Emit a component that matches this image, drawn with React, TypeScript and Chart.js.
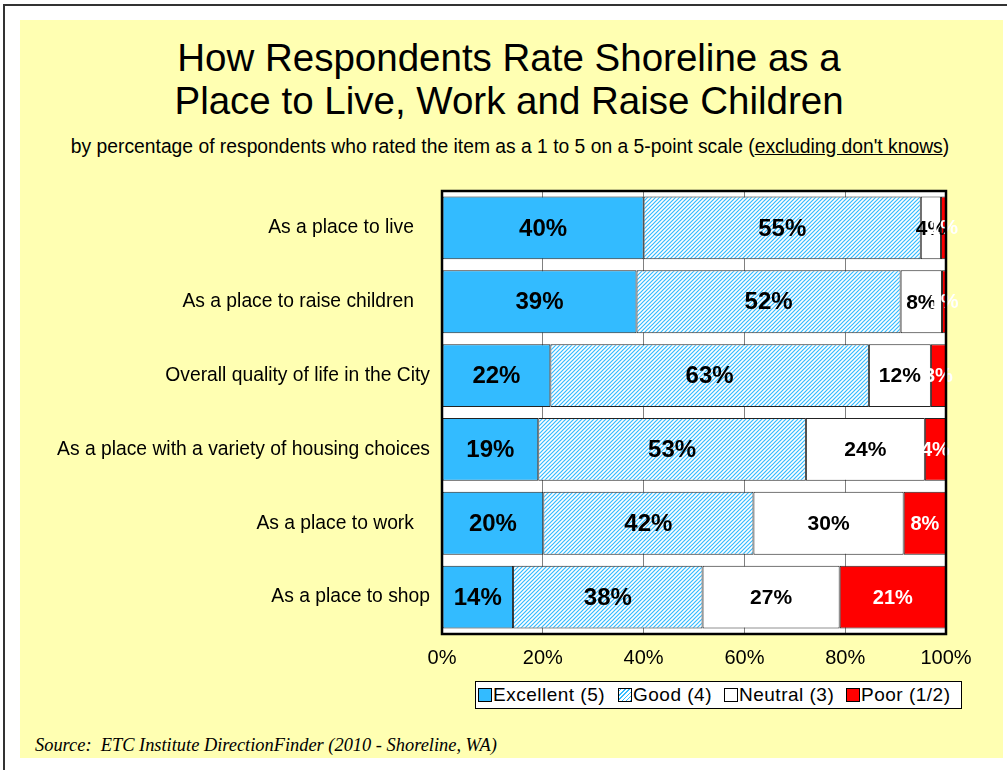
import React, { useEffect, useRef } from "react";
import { Chart, registerables } from "chart.js";
Chart.register(...registerables);

const categories = [
  "As a place to live   ",
  "As a place to raise children   ",
  "Overall quality of life in the City",
  "As a place with a variety of housing choices",
  "As a place to work   ",
  "As a place to shop",
];
const seriesNames = ["Excellent (5)", "Good (4)", "Neutral (3)", "Poor (1/2)"];
const excellent = [40, 38.6, 21.5, 19.1, 20.1, 14.1];
const good = [55, 52.4, 63.2, 53.1, 41.7, 37.6];
const neutral = [4, 8.2, 12.3, 23.6, 29.8, 27.2];
const poor = [1, 0.8, 3, 4.2, 8.4, 21.1];
const xTickLabels = ["0%", "20%", "40%", "60%", "80%", "100%"];

const BLUE = "#33bbff";
const YELLOW = "#ffffb2";
const FONT = "Arial, 'Liberation Sans', Helvetica, sans-serif";

function makeHatch(): CanvasPattern | string {
  const c = document.createElement("canvas");
  c.width = 4;
  c.height = 4;
  const g = c.getContext("2d");
  if (!g) return BLUE;
  g.fillStyle = "#ffffff";
  g.fillRect(0, 0, 4, 4);
  g.strokeStyle = BLUE;
  g.lineWidth = 1.2;
  g.beginPath();
  g.moveTo(-1, 5);
  g.lineTo(5, -1);
  g.moveTo(-1, 1);
  g.lineTo(1, -1);
  g.moveTo(3, 5);
  g.lineTo(5, 3);
  g.stroke();
  const p = g.createPattern(c, "repeat");
  return p || BLUE;
}

export default function App() {
  const ref = useRef<HTMLCanvasElement | null>(null);

  useEffect(() => {
    document.body.style.margin = "0";
    if (!ref.current) return;
    const hatch = makeHatch();

    const labelStyles = [
      { font: `bold 24px ${FONT}`, color: "#000" },
      { font: `bold 24px ${FONT}`, color: "#000" },
      { font: `bold 21px ${FONT}`, color: "#000" },
      { font: `bold 20px ${FONT}`, color: "#fff" },
    ];

    const plotBg = {
      id: "plotBg",
      beforeDraw(chart: any) {
        const { ctx, chartArea: a } = chart;
        ctx.save();
        ctx.fillStyle = "#ffffff";
        ctx.fillRect(a.left, a.top, a.right - a.left, a.bottom - a.top);
        ctx.restore();
      },
    };

    const labels = {
      id: "segLabels",
      afterDatasetsDraw(chart: any) {
        const { ctx } = chart;
        ctx.save();
        ctx.textAlign = "center";
        ctx.textBaseline = "middle";
        chart.data.datasets.forEach((ds: any, di: number) => {
          const meta = chart.getDatasetMeta(di);
          meta.data.forEach((bar: any, i: number) => {
            const v = ds.data[i];
            const cx = (bar.x + bar.base) / 2;
            ctx.font = labelStyles[di].font;
            ctx.fillStyle = labelStyles[di].color;
            ctx.fillText(Math.round(v) + "%", cx, bar.y + 1);
          });
        });
        ctx.restore();
      },
    };

    const border = {
      id: "plotBorder",
      afterDraw(chart: any) {
        const { ctx, chartArea: a } = chart;
        ctx.save();
        ctx.strokeStyle = "#000";
        ctx.lineWidth = 2.5;
        ctx.strokeRect(a.left, a.top, a.right - a.left, a.bottom - a.top);
        ctx.restore();
      },
    };

    const common = {
      borderColor: "#222",
      borderWidth: 1,
      borderSkipped: false,
      barPercentage: 0.85,
      categoryPercentage: 1,
    };

    const chart = new Chart(ref.current, {
      type: "bar",
      data: {
        labels: categories,
        datasets: [
          { label: seriesNames[0], data: excellent, backgroundColor: BLUE, ...common },
          { label: seriesNames[1], data: good, backgroundColor: hatch as any, ...common },
          { label: seriesNames[2], data: neutral, backgroundColor: "#ffffff", ...common },
          { label: seriesNames[3], data: poor, backgroundColor: "#ff0000", ...common },
        ],
      },
      options: {
        indexAxis: "y",
        animation: false,
        responsive: false,
        devicePixelRatio: 1,
        layout: { padding: { top: 26, right: 61, bottom: 0, left: 0 } },
        plugins: {
          legend: { display: false },
          tooltip: { enabled: false },
          title: { display: false },
        },
        scales: {
          x: {
            stacked: true,
            min: 0,
            max: 100,
            ticks: {
              stepSize: 20,
              padding: 12,
              color: "#000",
              font: { family: FONT, size: 20 },
              callback: (_v: any, i: number) => xTickLabels[i],
              maxRotation: 0,
            },
            grid: { color: "#808080", lineWidth: 1, drawTicks: false },
            border: { display: false },
            afterFit: (axis: any) => {
              axis.height = 46;
            },
          },
          y: {
            stacked: true,
            ticks: {
              padding: 12,
              color: "#000",
              font: { family: FONT, size: 19.3 },
            },
            grid: { display: false, drawTicks: false },
            border: { display: false },
            afterFit: (axis: any) => {
              axis.width = 422;
            },
          },
        },
      } as any,
      plugins: [plotBg, labels, border],
    });
    return () => chart.destroy();
  }, []);

  const sw = (bg: string): React.CSSProperties => ({
    position: "absolute",
    top: 6,
    width: 12,
    height: 12,
    border: "1px solid #000",
    background: bg,
  });
  const txt = (left: number): React.CSSProperties => ({
    position: "absolute",
    left,
    top: 2,
    fontSize: 19,
    letterSpacing: "0.5px",
    lineHeight: "22px",
    fontFamily: FONT,
    color: "#000",
    whiteSpace: "nowrap",
  });
  const hatchCss = `repeating-linear-gradient(-45deg, ${BLUE} 0px, ${BLUE} 1px, #fff 1px, #fff 3px)`;

  return (
    <div style={{ position: "fixed", left: 0, top: 0, width: 1007, height: 770, background: "#fff", overflow: "hidden" }}>
      <div style={{ position: "absolute", left: 3, top: 4, width: 1004, height: 2, background: "#333" }} />
      <div style={{ position: "absolute", left: 3, top: 4, width: 2, height: 766, background: "#333" }} />
      <div style={{ position: "absolute", left: 20, top: 20, width: 983, height: 738, background: YELLOW }} />
      <div
        style={{
          position: "absolute",
          left: 20,
          top: 36,
          width: 978,
          textAlign: "center",
          fontFamily: FONT,
          fontSize: 38.5,
          lineHeight: "43px",
          color: "#000",
          whiteSpace: "nowrap",
        }}
      >
        How Respondents Rate Shoreline as a<br />Place to Live, Work and Raise Children
      </div>
      <div
        style={{
          position: "absolute",
          left: 20,
          top: 136,
          width: 980,
          textAlign: "center",
          fontFamily: FONT,
          fontSize: 19.3,
          lineHeight: "22px",
          color: "#000",
          whiteSpace: "nowrap",
        }}
      >
        by percentage of respondents who rated the item as a 1 to 5 on a 5-point scale (
        <span style={{ textDecoration: "underline" }}>excluding don't knows</span>)
      </div>
      <canvas ref={ref} width={987} height={515} style={{ position: "absolute", left: 20, top: 165 }} />
      <div
        style={{
          position: "absolute",
          left: 475,
          top: 681,
          width: 487,
          height: 28,
          boxSizing: "border-box",
          border: "1px solid #000",
          background: "#fff",
        }}
      >
        <div style={{ ...sw(BLUE), left: 2 }} />
        <div style={txt(17)}>{seriesNames[0]}</div>
        <div style={{ ...sw("#fff"), left: 142, backgroundImage: hatchCss }} />
        <div style={txt(157)}>{seriesNames[1]}</div>
        <div style={{ ...sw("#fff"), left: 248 }} />
        <div style={txt(263)}>{seriesNames[2]}</div>
        <div style={{ ...sw("#ff0000"), left: 370 }} />
        <div style={txt(385)}>{seriesNames[3]}</div>
      </div>
      <div
        style={{
          position: "absolute",
          left: 35,
          top: 734,
          fontFamily: "'Liberation Serif', 'Times New Roman', serif",
          fontStyle: "italic",
          fontSize: 18.4,
          lineHeight: "22px",
          color: "#000",
          whiteSpace: "nowrap",
        }}
      >
        Source:&nbsp; ETC Institute DirectionFinder (2010 - Shoreline, WA)
      </div>
    </div>
  );
}
